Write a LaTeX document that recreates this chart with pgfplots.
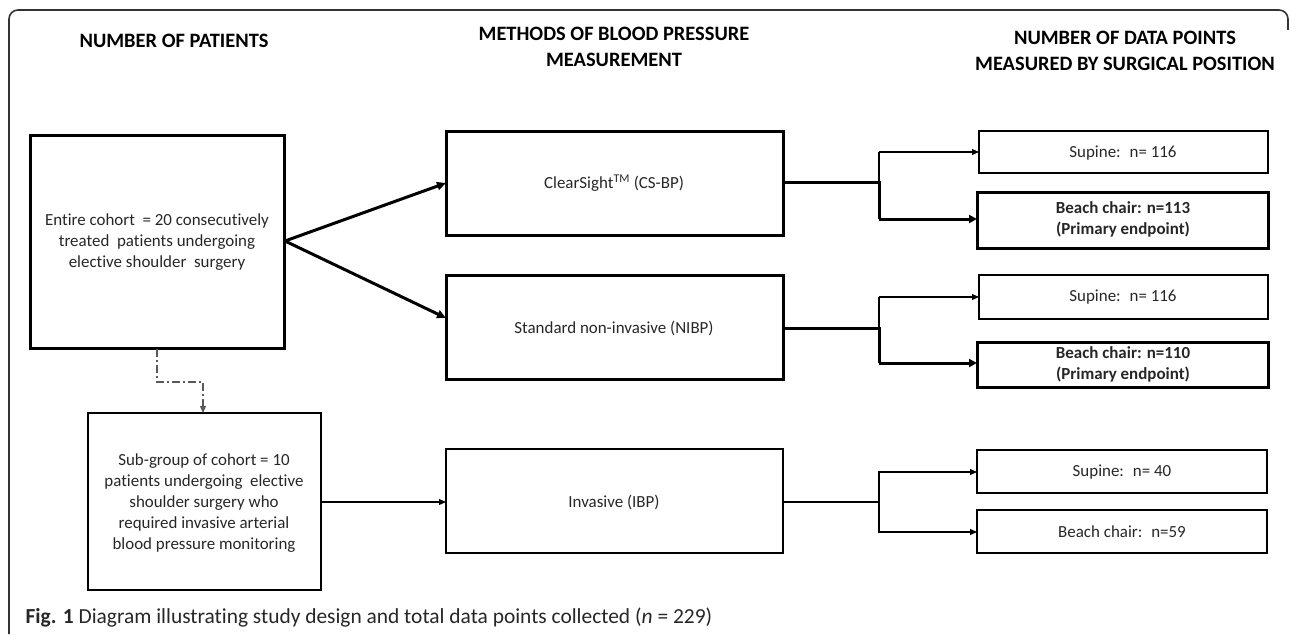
\documentclass[border=0pt]{standalone}
\usepackage{pgfplots}
\pgfplotsset{compat=1.18}
\usepackage{fontspec}
\setmainfont{Carlito}[Ligatures=NoCommon]
\usetikzlibrary{arrows.meta}
\definecolor{txt}{HTML}{262626}
\definecolor{frame}{HTML}{333333}
\begin{document}
\begin{tikzpicture}
\begin{axis}[
  scale only axis, width=1290bp, height=634bp,
  xmin=0, xmax=1290, ymin=0, ymax=634, y dir=reverse,
  hide axis, clip=false,
]
\path (axis cs:0,0) rectangle (axis cs:1290,634);
% outer frame
\draw[frame, line width=1.6bp, rounded corners=9bp]
  (axis cs:9,634) -- (axis cs:9,10) -- (axis cs:1288,10) -- (axis cs:1288,30);
% headers
\node[font=\bfseries\fontsize{20.5}{25}\selectfont, text=black, align=center] at (axis cs:174,41) {NUMBER OF PATIENTS};
\node[font=\bfseries\fontsize{20.5}{26.5}\selectfont, text=black, align=center] at (axis cs:614,47) {METHODS OF BLOOD PRESSURE\\MEASUREMENT};
\node[font=\bfseries\fontsize{20.5}{25.5}\selectfont, text=black, align=center] at (axis cs:1125,51) {NUMBER OF DATA POINTS\\MEASURED BY SURGICAL POSITION};
% boxes
\draw[line width=3bp] (axis cs:30,135) rectangle (axis cs:284,348);
\draw[line width=3bp] (axis cs:446,131) rectangle (axis cs:783,235);
\draw[line width=3bp] (axis cs:446,275) rectangle (axis cs:783,379);
\draw[line width=1.1bp] (axis cs:88,413) rectangle (axis cs:321,590);
\draw[line width=1.1bp] (axis cs:446,449) rectangle (axis cs:783,553);
\draw[line width=1.1bp] (axis cs:979,131) rectangle (axis cs:1268,173);
\draw[line width=3bp] (axis cs:977,192) rectangle (axis cs:1268,248);
\draw[line width=1.1bp] (axis cs:979,275) rectangle (axis cs:1268,319);
\draw[line width=3bp] (axis cs:977,342) rectangle (axis cs:1268,387);
\draw[line width=1.1bp] (axis cs:977,450) rectangle (axis cs:1267,493);
\draw[line width=1.1bp] (axis cs:977,510) rectangle (axis cs:1267,553);
% box texts
\begin{scope}[every node/.style={text=txt, align=center, font=\fontsize{17}{21}\selectfont}]
\node at (axis cs:157,242) {Entire cohort \ = 20 consecutively\\treated \ patients undergoing\\elective shoulder \ surgery};
\node at (axis cs:614,183) {ClearSight\textsuperscript{TM} (CS-BP)};
\node at (axis cs:614,328) {Standard non-invasive (NIBP)};
\node at (axis cs:204,503) {Sub-group of cohort = 10\\patients undergoing \ elective\\shoulder surgery who\\required invasive arterial\\blood pressure monitoring};
\node at (axis cs:614,502) {Invasive (IBP)};
\node at (axis cs:1123,153) {Supine: \ n= 116};
\node[font=\bfseries\fontsize{17}{21}\selectfont] at (axis cs:1123,219) {Beach chair: n=113\\(Primary endpoint)};
\node at (axis cs:1123,297) {Supine: \ n= 116};
\node[font=\bfseries\fontsize{17}{21}\selectfont] at (axis cs:1123,364) {Beach chair: n=110\\(Primary endpoint)};
\node at (axis cs:1122,472) {Supine: \ n= 40};
\node at (axis cs:1122,532) {Beach chair: \ n=59};
\end{scope}
% arrows from cohort
\draw[line width=3bp, -{Triangle[length=9bp,width=8bp]}] (axis cs:285,241) -- (axis cs:446,183);
\draw[line width=3bp, -{Triangle[length=9bp,width=8bp]}] (axis cs:285,241) -- (axis cs:446,318);
% dash-dot connector
\draw[gray!70!black, line width=1.1bp, dash pattern=on 8bp off 3bp on 2bp off 3bp, -{Triangle[length=7bp,width=6bp]}]
  (axis cs:157,349) -- (axis cs:157,382) -- (axis cs:203,382) -- (axis cs:203,413);
% subgroup to IBP
\draw[line width=1.1bp, -{Triangle[length=7bp,width=6bp]}] (axis cs:321,502) -- (axis cs:446,502);
% CS branch
\draw[line width=3bp] (axis cs:783,182) -- (axis cs:879,182) -- (axis cs:879,219);
\draw[line width=3bp, -{Triangle[length=8bp,width=8bp]}] (axis cs:879,219) -- (axis cs:977,219);
\draw[line width=1.1bp] (axis cs:879,182) -- (axis cs:879,152);
\draw[line width=1.1bp, -{Triangle[length=7bp,width=6bp]}] (axis cs:879,152) -- (axis cs:979,152);
% NIBP branch
\draw[line width=3bp] (axis cs:783,328) -- (axis cs:879,328) -- (axis cs:879,363);
\draw[line width=3bp, -{Triangle[length=8bp,width=8bp]}] (axis cs:879,363) -- (axis cs:977,363);
\draw[line width=1.1bp] (axis cs:879,328) -- (axis cs:879,297);
\draw[line width=1.1bp, -{Triangle[length=7bp,width=6bp]}] (axis cs:879,297) -- (axis cs:979,297);
% IBP branch
\draw[line width=1.1bp] (axis cs:783,502) -- (axis cs:879,502);
\draw[line width=1.1bp, -{Triangle[length=7bp,width=6bp]}] (axis cs:879,502) -- (axis cs:879,472) -- (axis cs:977,472);
\draw[line width=1.1bp, -{Triangle[length=7bp,width=6bp]}] (axis cs:879,502) -- (axis cs:879,532) -- (axis cs:977,532);
% caption
\node[anchor=west, text=txt, font=\fontsize{21.5}{24}\selectfont] at (axis cs:22,617)
  {\textbf{Fig. 1} Diagram illustrating study design and total data points collected (\textit{n} = 229)};
\end{axis}
\end{tikzpicture}
\end{document}
